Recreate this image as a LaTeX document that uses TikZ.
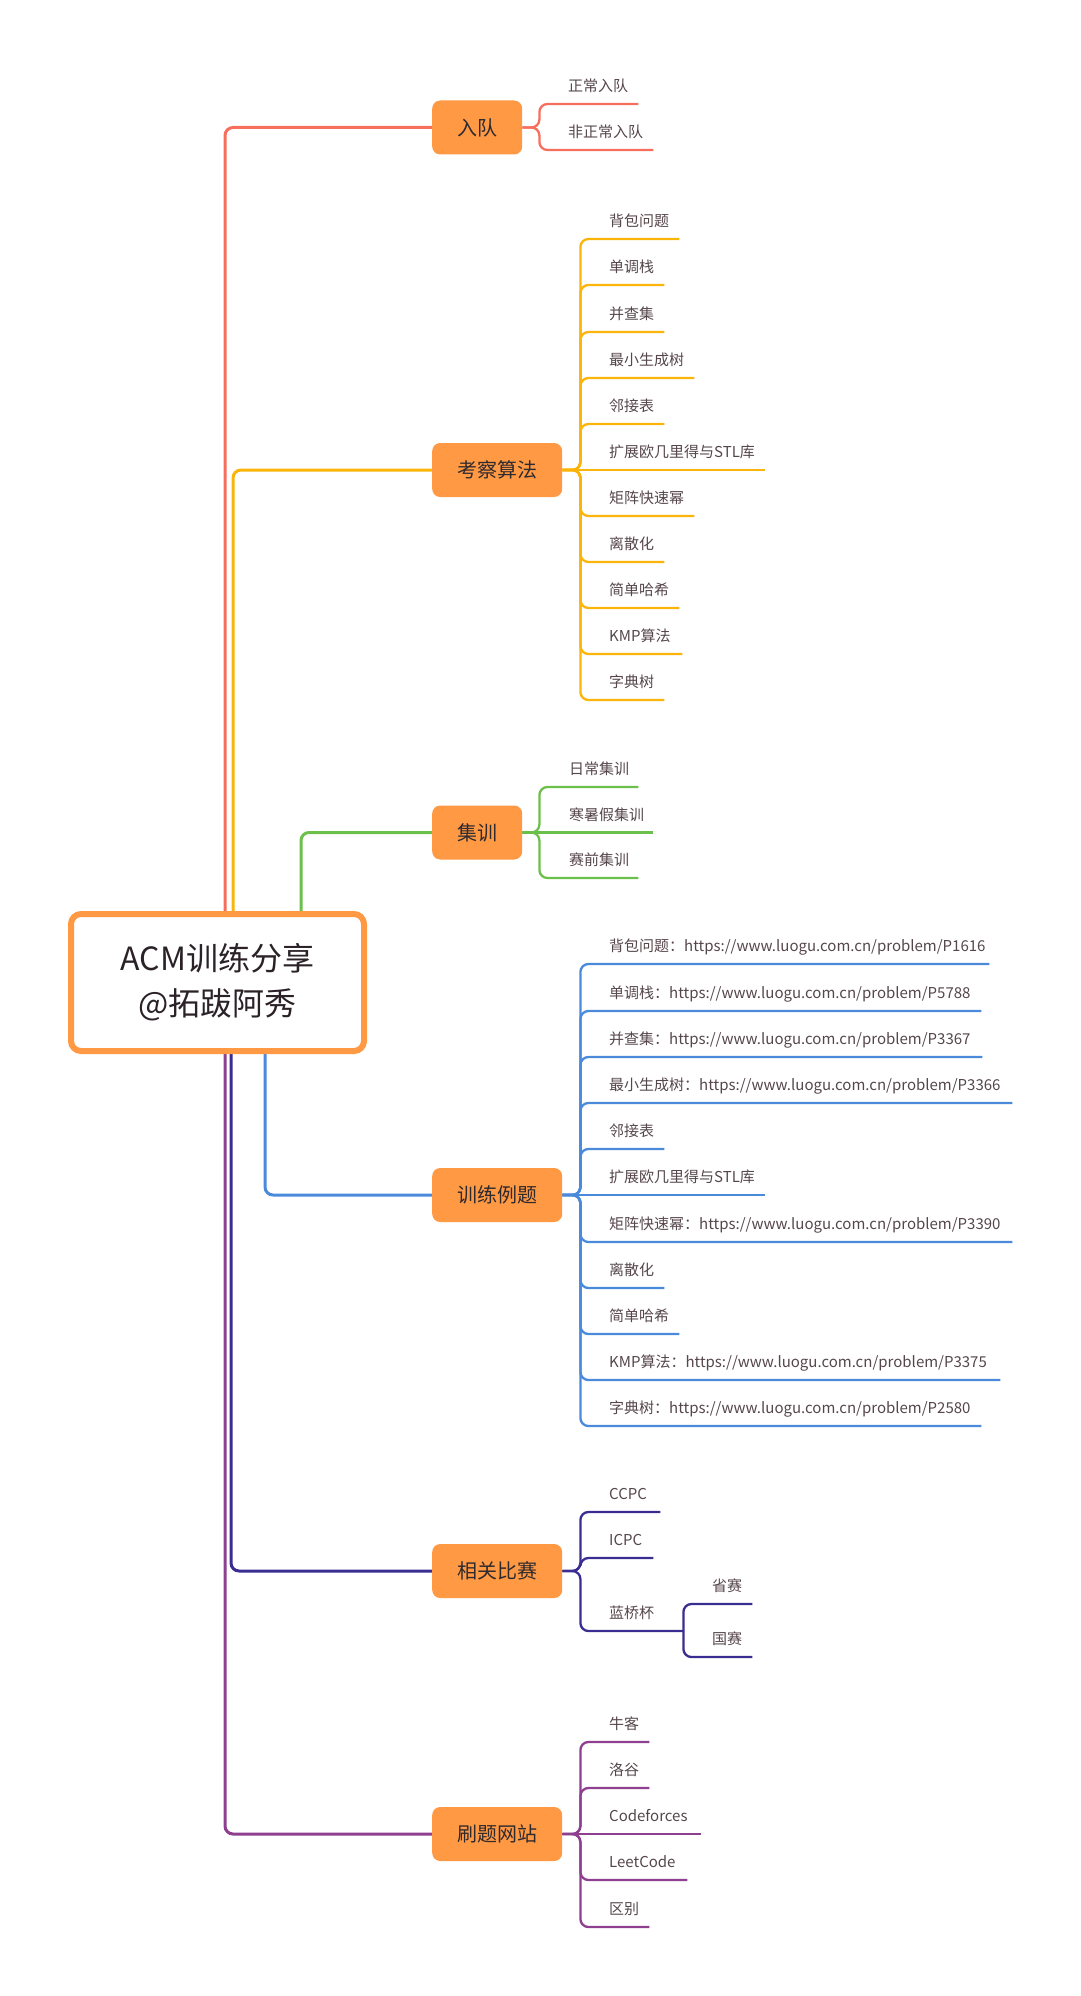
\documentclass[tikz,border=0pt]{standalone}
\usepackage{fontspec}
\setmainfont{Noto Sans CJK SC}
\usetikzlibrary{positioning,backgrounds}
\definecolor{boxorange}{HTML}{FF9944}
\definecolor{rudcol}{HTML}{F76E5D}
\definecolor{kaocol}{HTML}{FBB409}
\definecolor{jixcol}{HTML}{6BC04B}
\definecolor{liticol}{HTML}{4B8ADA}
\definecolor{bisaicol}{HTML}{3A2D92}
\definecolor{shuacol}{HTML}{8E3F8F}
\definecolor{roottext}{HTML}{2B2228}
\definecolor{topictext}{HTML}{2F2A2E}
\definecolor{leaftext}{HTML}{55464A}
\tikzset{
  root/.style={draw=boxorange, line width=6pt, rounded corners=10pt, fill=white, align=center, text=roottext, font=\fontsize{32}{45}\selectfont, minimum width=293pt, minimum height=137pt},
  topic/.style={anchor=west, fill=boxorange, rounded corners=8pt, text=topictext, font=\fontsize{20}{24}\selectfont, inner xsep=25pt, minimum height=54pt},
  leaf/.style={anchor=south west, inner sep=0pt, text depth=12pt, text width=#1, align=left, text=leaftext, font=\fontsize{15}{18}\selectfont},
  mline/.style={draw=#1, line width=3pt, rounded corners=8pt},
  sline/.style={draw=#1, line width=2.3pt, rounded corners=8pt},
}
\begin{document}
\begin{tikzpicture}[x=1pt, y=-1pt]
\useasboundingbox (0,0) rectangle (1080,1996);
\node[root] (acm) at (217.5,982.5) {ACM训练分享\\@拓跋阿秀};

\node[topic] (rudui) at (432,127.5) {入队};
\node[topic] (kaocha) at (432,470) {考察算法};
\node[topic] (jixun) at (432,832.5) {集训};
\node[topic] (liti) at (432,1195) {训练例题};
\node[topic] (bisai) at (432,1571) {相关比赛};
\node[topic] (shuati) at (432,1834) {刷题网站};

% 入队
\node[leaf=70pt] (zc) at (568,104) {正常入队};
\node[leaf=85pt] (fzc) at (568,150) {非正常入队};

% 考察算法
\node[leaf=70pt] (k1) at (609,239) {背包问题};
\node[leaf=55pt] (k2) at (609,285) {单调栈};
\node[leaf=55pt] (k3) at (609,332) {并查集};
\node[leaf=85pt] (k4) at (609,378) {最小生成树};
\node[leaf=55pt] (k5) at (609,424) {邻接表};
\node[leaf=156pt] (k6) at (609,470) {扩展欧几里得与STL库};
\node[leaf=85pt] (k7) at (609,516) {矩阵快速幂};
\node[leaf=55pt] (k8) at (609,562) {离散化};
\node[leaf=70pt] (k9) at (609,608) {简单哈希};
\node[leaf=73pt] (k10) at (609,654) {KMP算法};
\node[leaf=55pt] (k11) at (609,700) {字典树};

% 集训
\node[leaf=69pt] (j1) at (569,787) {日常集训};
\node[leaf=84pt] (j2) at (569,832.5) {寒暑假集训};
\node[leaf=69pt] (j3) at (569,878) {赛前集训};

% 训练例题
\node[leaf=380pt] (l1) at (609,964) {背包问题：https://www.luogu.com.cn/problem/P1616};
\node[leaf=372pt] (l2) at (609,1011) {单调栈：https://www.luogu.com.cn/problem/P5788};
\node[leaf=373pt] (l3) at (609,1057) {并查集：https://www.luogu.com.cn/problem/P3367};
\node[leaf=403pt] (l4) at (609,1103) {最小生成树：https://www.luogu.com.cn/problem/P3366};
\node[leaf=55pt] (l5) at (609,1149) {邻接表};
\node[leaf=156pt] (l6) at (609,1195) {扩展欧几里得与STL库};
\node[leaf=403pt] (l7) at (609,1242) {矩阵快速幂：https://www.luogu.com.cn/problem/P3390};
\node[leaf=55pt] (l8) at (609,1288) {离散化};
\node[leaf=70pt] (l9) at (609,1334) {简单哈希};
\node[leaf=391pt] (l10) at (609,1380) {KMP算法：https://www.luogu.com.cn/problem/P3375};
\node[leaf=372pt] (l11) at (609,1426) {字典树：https://www.luogu.com.cn/problem/P2580};

% 相关比赛
\node[leaf=51pt] (b1) at (609,1512) {CCPC};
\node[leaf=44pt] (b2) at (609,1558) {ICPC};
\node[leaf=74pt] (b3) at (609,1631) {蓝桥杯};
\node[leaf=40pt] (b4) at (712,1604) {省赛};
\node[leaf=40pt] (b5) at (712,1657) {国赛};

% 刷题网站
\node[leaf=40pt] (s1) at (609,1742) {牛客};
\node[leaf=40pt] (s2) at (609,1788) {洛谷};
\node[leaf=92pt] (s3) at (609,1834) {Codeforces};
\node[leaf=78pt] (s4) at (609,1880) {LeetCode};
\node[leaf=40pt] (s5) at (609,1927) {区别};

\begin{scope}[on background layer]
\draw[mline=rudcol] (acm.north -| 225,0) |- (rudui.west);
\draw[mline=kaocol] (acm.north -| 233,0) |- (kaocha.west);
\draw[mline=jixcol] (acm.north -| 301,0) |- (jixun.west);
\draw[mline=liticol] (acm.south -| 265,0) |- (liti.west);
\draw[mline=bisaicol] (acm.south -| 231,0) |- (bisai.west);
\draw[mline=shuacol] (acm.south -| 225,0) |- (shuati.west);

\draw[sline=rudcol] (rudui.east) -- ++(17,0) |- (zc.south east);
\draw[sline=rudcol] (rudui.east) -- ++(17,0) |- (fzc.south east);

\draw[sline=kaocol] (kaocha.east) -- ++(18,0) |- (k1.south east);
\draw[sline=kaocol] (kaocha.east) -- ++(18,0) |- (k2.south east);
\draw[sline=kaocol] (kaocha.east) -- ++(18,0) |- (k3.south east);
\draw[sline=kaocol] (kaocha.east) -- ++(18,0) |- (k4.south east);
\draw[sline=kaocol] (kaocha.east) -- ++(18,0) |- (k5.south east);
\draw[sline=kaocol] (kaocha.east) -- (k6.south east);
\draw[sline=kaocol] (kaocha.east) -- ++(18,0) |- (k7.south east);
\draw[sline=kaocol] (kaocha.east) -- ++(18,0) |- (k8.south east);
\draw[sline=kaocol] (kaocha.east) -- ++(18,0) |- (k9.south east);
\draw[sline=kaocol] (kaocha.east) -- ++(18,0) |- (k10.south east);
\draw[sline=kaocol] (kaocha.east) -- ++(18,0) |- (k11.south east);

\draw[sline=jixcol] (jixun.east) -- ++(17,0) |- (j1.south east);
\draw[sline=jixcol] (jixun.east) -- (j2.south east);
\draw[sline=jixcol] (jixun.east) -- ++(17,0) |- (j3.south east);

\draw[sline=liticol] (liti.east) -- ++(18,0) |- (l1.south east);
\draw[sline=liticol] (liti.east) -- ++(18,0) |- (l2.south east);
\draw[sline=liticol] (liti.east) -- ++(18,0) |- (l3.south east);
\draw[sline=liticol] (liti.east) -- ++(18,0) |- (l4.south east);
\draw[sline=liticol] (liti.east) -- ++(18,0) |- (l5.south east);
\draw[sline=liticol] (liti.east) -- (l6.south east);
\draw[sline=liticol] (liti.east) -- ++(18,0) |- (l7.south east);
\draw[sline=liticol] (liti.east) -- ++(18,0) |- (l8.south east);
\draw[sline=liticol] (liti.east) -- ++(18,0) |- (l9.south east);
\draw[sline=liticol] (liti.east) -- ++(18,0) |- (l10.south east);
\draw[sline=liticol] (liti.east) -- ++(18,0) |- (l11.south east);

\draw[sline=bisaicol] (bisai.east) -- ++(18,0) |- (b1.south east);
\draw[sline=bisaicol] (bisai.east) -- ++(18,0) |- (b2.south east);
\draw[sline=bisaicol] (bisai.east) -- ++(18,0) |- (b3.south east);
\draw[sline=bisaicol] (b3.south east) |- (b4.south east);
\draw[sline=bisaicol] (b3.south east) |- (b5.south east);

\draw[sline=shuacol] (shuati.east) -- ++(18,0) |- (s1.south east);
\draw[sline=shuacol] (shuati.east) -- ++(18,0) |- (s2.south east);
\draw[sline=shuacol] (shuati.east) -- (s3.south east);
\draw[sline=shuacol] (shuati.east) -- ++(18,0) |- (s4.south east);
\draw[sline=shuacol] (shuati.east) -- ++(18,0) |- (s5.south east);
\end{scope}
\end{tikzpicture}
\end{document}
